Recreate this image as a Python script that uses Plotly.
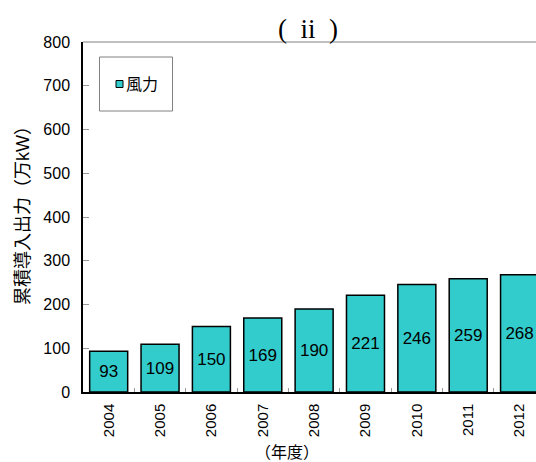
import plotly.graph_objects as go

years = ["2004", "2005", "2006", "2007", "2008", "2009", "2010", "2011", "2012"]
wind = [93, 109, 150, 169, 190, 221, 246, 259, 268]
series_name = "風力"
title_text = "(\u2002ii\u2002)"
y_title = "累積導入出力（万kW）"
x_title = "（年度）"

W, H = 536, 462
ml, mr, mt, mb = 83, 0, 42, 70
pw = W - ml - mr
ph = H - mt - mb

FONT = "Liberation Sans, Arial, Noto Sans CJK JP"
TEAL = "#33CCCC"

fig = go.Figure()
fig.add_trace(go.Bar(
    x=years, y=wind, name=series_name,
    marker=dict(color=TEAL, line=dict(color="black", width=1.5)),
    text=[str(v) for v in wind], textposition="inside",
    insidetextanchor="middle",
    textfont=dict(family=FONT, size=17, color="black"),
    showlegend=False,
))

def px(xp):
    return (xp - ml) / pw

def py(yp):
    return (H - mb - yp) / ph

shapes = [
    dict(type="line", xref="paper", yref="paper", x0=0, x1=1, y0=1, y1=1,
         line=dict(color="#808080", width=1)),
    dict(type="rect", xref="paper", yref="paper",
         x0=px(99.5), x1=px(172.5), y0=py(111), y1=py(57),
         line=dict(color="#808080", width=1), fillcolor="white"),
    dict(type="rect", xref="paper", yref="paper",
         x0=px(116), x1=px(123), y0=py(87.5), y1=py(80.5),
         line=dict(color="black", width=1), fillcolor=TEAL),
]

annotations = [
    dict(text=title_text, xref="paper", yref="paper", x=px(308), y=py(29),
         showarrow=False, xanchor="center", yanchor="middle",
         font=dict(family="Liberation Serif, Times New Roman", size=27, color="black")),
    dict(text=series_name, xref="paper", yref="paper", x=px(124), y=py(84),
         showarrow=False, xanchor="left", yanchor="middle",
         font=dict(family=FONT, size=16, color="black")),
    dict(text=y_title, xref="paper", yref="paper", x=px(23), y=py(211),
         showarrow=False, xanchor="center", yanchor="middle", textangle=-90,
         font=dict(family=FONT, size=18, color="black")),
    dict(text=x_title, xref="paper", yref="paper", x=px(287), y=py(452),
         showarrow=False, xanchor="center", yanchor="middle",
         font=dict(family=FONT, size=16, color="black")),
]

fig.update_layout(
    width=W, height=H,
    margin=dict(l=ml, r=mr, t=mt, b=mb, pad=0),
    paper_bgcolor="white", plot_bgcolor="white",
    bargap=0.26,
    shapes=shapes, annotations=annotations,
    font=dict(family=FONT, color="black"),
    xaxis=dict(
        type="category", range=[-0.5, 8.32],
        showline=True, linecolor="black", linewidth=1.5,
        ticks="inside", tickson="boundaries", ticklen=4, tickcolor="#999999",
        tickangle=-90, tickfont=dict(family=FONT, size=15, color="black"),
        ticklabelstandoff=4,
        showgrid=False, zeroline=False,
    ),
    yaxis=dict(
        range=[0, 800], dtick=100,
        showline=True, linecolor="black", linewidth=1.5,
        ticks="inside", ticklen=6, tickcolor="#999999",
        tickfont=dict(family=FONT, size=16, color="black"),
        ticklabelstandoff=8,
        showgrid=False, zeroline=False,
    ),
)

fig.write_html(
    "out.html",
    config={"displayModeBar": False},
    post_script="document.body.style.margin='0';document.body.style.overflow='hidden';",
)
